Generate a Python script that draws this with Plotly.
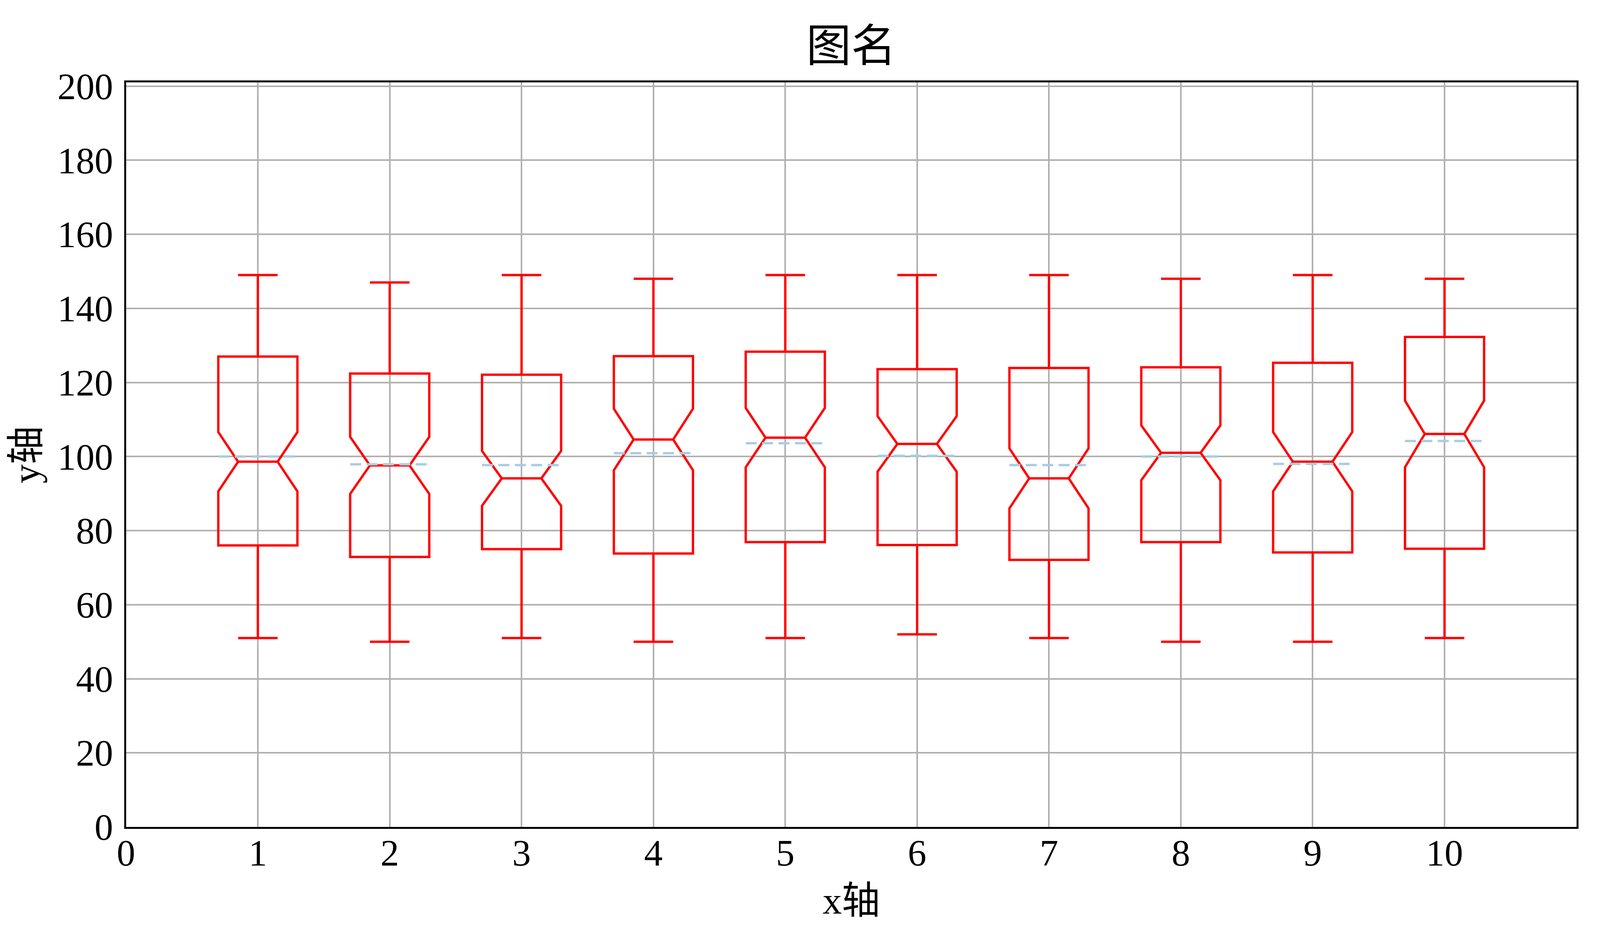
import plotly.graph_objects as go

positions = [1, 2, 3, 4, 5, 6, 7, 8, 9, 10]
lower_whisker = [51.0, 50.0, 51.0, 50.0, 51.0, 52.0, 51.0, 50.0, 50.0, 51.0]
q1_values = [76.0, 72.9, 75.0, 73.8, 76.9, 76.1, 72.1, 76.9, 74.1, 75.1]
medians = [98.6, 97.6, 94.1, 104.6, 105.1, 103.4, 94.1, 101.0, 98.6, 106.1]
q3_values = [127.0, 122.4, 122.1, 127.1, 128.3, 123.6, 123.9, 124.1, 125.3, 132.3]
upper_whisker = [149.0, 147.0, 149.0, 148.0, 149.0, 149.0, 149.0, 148.0, 149.0, 148.0]
notch_spans = [8.0, 7.7, 7.4, 8.3, 8.0, 7.5, 8.1, 7.4, 8.0, 9.0]
means = [100.0, 97.9, 97.7, 100.9, 103.6, 100.2, 97.7, 100.0, 98.0, 104.2]

x_ticks = [0, 1, 2, 3, 4, 5, 6, 7, 8, 9, 10]
y_ticks = [0, 20, 40, 60, 80, 100, 120, 140, 160, 180, 200]

title_text = "图名"
x_title = "x轴"
y_title = "y轴"

BOX_W = 0.6
FONT = "Liberation Serif, 'Noto Sans CJK SC', serif"

# plot-area placement as fractions of the page (reference 4747 x 2423)
X_DOM = [366 / 4747, 4686 / 4747]
Y_DOM = [1 - 2124 / 2423, 1 - 204.5 / 2423]

fig = go.Figure()
fig.add_trace(go.Box(
    x=positions,
    q1=q1_values,
    median=medians,
    q3=q3_values,
    lowerfence=lower_whisker,
    upperfence=upper_whisker,
    notchspan=notch_spans,
    notched=True,
    notchwidth=0.25,
    width=BOX_W,
    whiskerwidth=0.5,
    boxpoints=False,
    line=dict(color="#ff0000", width=6),
    fillcolor="rgba(0,0,0,0)",
    showlegend=False,
    hoverinfo="skip",
))

mx, my = [], []
for p, m in zip(positions, means):
    mx += [p - BOX_W / 2, p + BOX_W / 2, None]
    my += [m, m, None]
fig.add_trace(go.Scatter(
    x=mx, y=my, mode="lines",
    line=dict(color="#a6cee3", width=6, dash="28px,14px"),
    showlegend=False, hoverinfo="skip",
))

axis_common = dict(
    showline=True, linecolor="black", linewidth=5, mirror=True,
    showgrid=True, gridcolor="#b0b0b0", gridwidth=3.5,
    zeroline=False, ticks="", automargin=False,
    tickfont=dict(family=FONT, size=95, color="black"),
)

fig.update_layout(
    autosize=True,
    margin=dict(l=0, r=0, t=0, b=0, pad=0),
    paper_bgcolor="white", plot_bgcolor="white",
    font=dict(family=FONT, color="black"),
    xaxis=dict(domain=X_DOM, range=[0, 11], tickvals=x_ticks,
               ticktext=[str(v) for v in x_ticks], ticklabelstandoff=-20,
               **axis_common),
    yaxis=dict(domain=Y_DOM, range=[0, 201], tickvals=y_ticks,
               ticktext=[str(v) for v in y_ticks], ticklabelstandoff=9,
               **axis_common),
    annotations=[
        dict(text=title_text, xref="paper", yref="paper",
             x=sum(X_DOM) / 2, y=Y_DOM[1], yshift=92.5,
             xanchor="center", yanchor="middle",
             showarrow=False, font=dict(family=FONT, size=115, color="black")),
        dict(text=x_title, xref="paper", yref="paper",
             x=sum(X_DOM) / 2, y=Y_DOM[0], yshift=-189,
             xanchor="center", yanchor="middle",
             showarrow=False, font=dict(family=FONT, size=98, color="black")),
        dict(text=y_title, xref="paper", yref="paper", textangle=-90,
             x=X_DOM[0], xshift=-256, y=sum(Y_DOM) / 2,
             xanchor="center", yanchor="middle",
             showarrow=False, font=dict(family=FONT, size=98, color="black")),
    ],
)

fig.write_html("out.html", config={"responsive": True})
